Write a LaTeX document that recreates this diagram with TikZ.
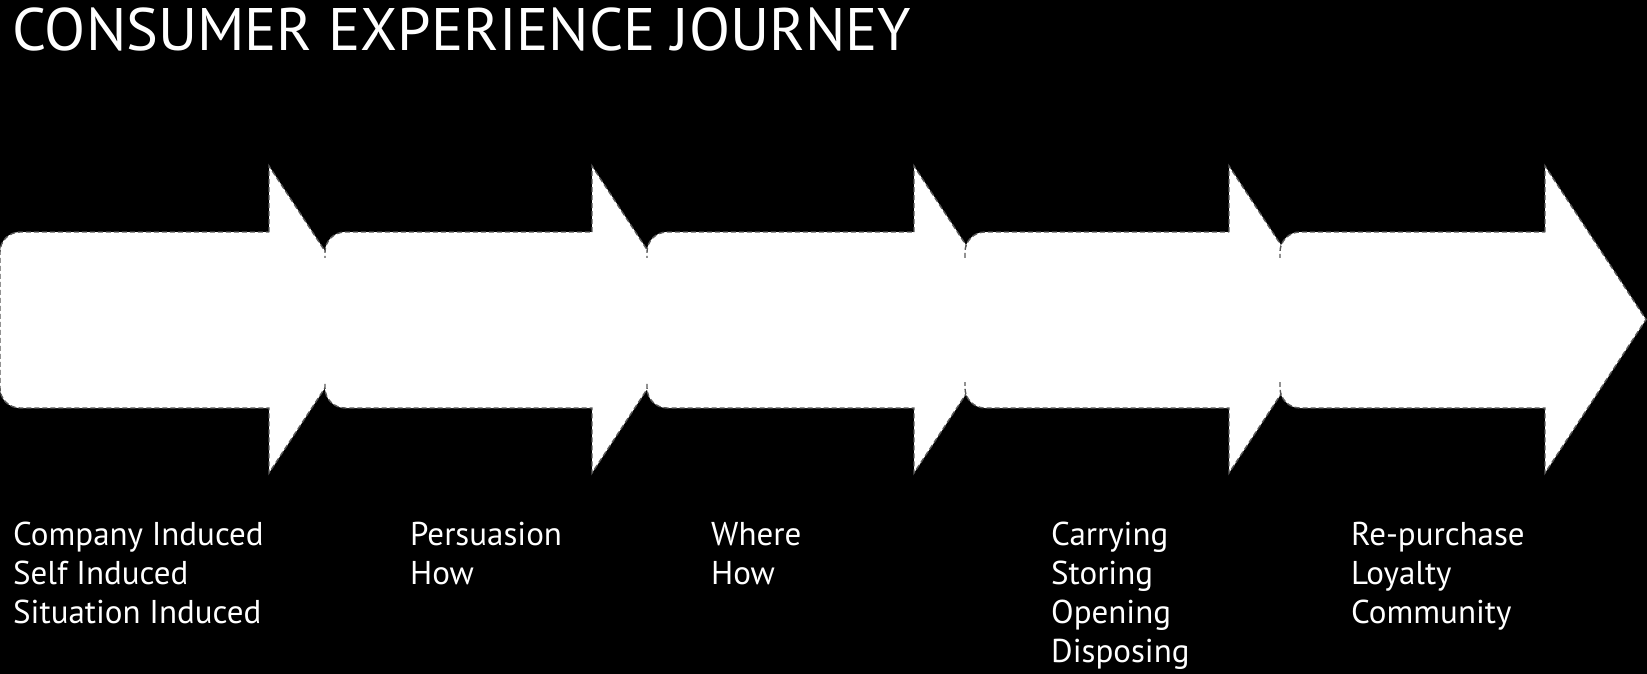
\documentclass[tikz,border=0pt]{standalone}
\usepackage{fontspec}
\setmainfont{PT Sans}
\begin{document}
\begin{tikzpicture}[x=1pt,y=-1pt,
  arrowshape/.style={fill=white,draw=black!65,line width=1.4pt,dash pattern=on 5pt off 3pt},
  seamcover/.style={fill=white},
  titletext/.style={anchor=base west,inner sep=0pt,text=white,font=\fontsize{60}{72}\selectfont},
  itemtext/.style={anchor=base west,inner sep=0pt,text=white,font=\fontsize{33}{39}\selectfont}]
\fill[black] (0,0) rectangle (1647,674);
\useasboundingbox (0,0) rectangle (1647,674);
\node[titletext] (title) at (12,51) {CONSUMER EXPERIENCE JOURNEY};
% arrows: left edge / base of head
\def\arrowpath#1#2{(#2,232) -- (#2,166) -- (#2+101,319.5) -- (#2,473) -- (#2,408)
    -- (#1+20,408) arc[start angle=90,end angle=180,radius=20]
    -- (#1,252) arc[start angle=180,end angle=270,radius=20] -- cycle}
\foreach \L/\B in {0/269,325/592,647/914,965/1229,1280/1545}{
  \draw[arrowshape] \arrowpath{\L}{\B};
}
% hide the seams where each arrow's left edge lies inside the previous head
\foreach \L in {325,647,965,1280}{
  \fill[seamcover] (\L-1.5,258) rectangle (\L+1.5,382);
}
% labels
\node[itemtext] (c1a) at (13,545) {Company Induced};
\node[itemtext] (c1b) at (13,584) {Self Induced};
\node[itemtext] (c1c) at (13,623) {Situation Induced};
\node[itemtext] (c2a) at (410,545) {Persuasion};
\node[itemtext] (c2b) at (410,584) {How};
\node[itemtext] (c3a) at (711,545) {Where};
\node[itemtext] (c3b) at (711,584) {How};
\node[itemtext] (c4a) at (1051,545) {Carrying};
\node[itemtext] (c4b) at (1051,584) {Storing};
\node[itemtext] (c4c) at (1051,623) {Opening};
\node[itemtext] (c4d) at (1051,662) {Disposing};
\node[itemtext] (c5a) at (1351,545) {Re-purchase};
\node[itemtext] (c5b) at (1351,584) {Loyalty};
\node[itemtext] (c5c) at (1351,623) {Community};
\end{tikzpicture}
\end{document}
